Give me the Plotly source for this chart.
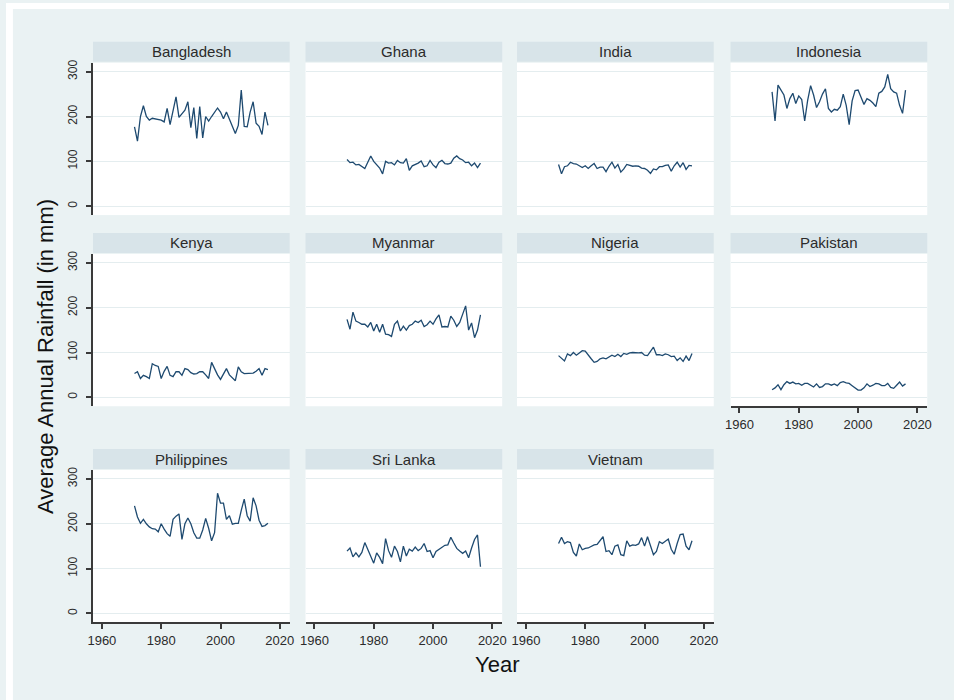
import plotly.graph_objects as go

# Annual rainfall series (mm), 1971-2016
years = list(range(1971, 2017))

countries = ["Bangladesh", "Ghana", "India", "Indonesia",
             "Kenya", "Myanmar", "Nigeria", "Pakistan",
             "Philippines", "Sri Lanka", "Vietnam"]

bangladesh = [177, 145, 200, 224, 200, 192, 196, 195, 193, 192, 188, 218, 182, 215, 244, 198,
              205, 214, 233, 175, 220, 151, 222, 152, 200, 190, 200, 210, 219, 210, 195, 210,
              195, 180, 162, 180, 259, 178, 177, 210, 233, 185, 178, 160, 210, 180]
ghana = [104, 97, 98, 92, 93, 88, 84, 98, 112, 100, 93, 85, 72, 100, 96, 97,
         92, 102, 97, 96, 106, 80, 90, 93, 96, 101, 88, 90, 102, 92, 86, 98,
         102, 95, 94, 96, 107, 112, 106, 103, 97, 98, 90, 96, 86, 96]
india = [93, 72, 88, 90, 98, 95, 94, 90, 86, 90, 84, 90, 95, 84, 87, 87,
         77, 89, 98, 85, 93, 76, 83, 93, 91, 89, 90, 89, 85, 84, 80, 73,
         83, 81, 88, 88, 91, 92, 78, 90, 98, 87, 97, 82, 91, 90]
indonesia = [255, 190, 270, 260, 248, 218, 240, 252, 229, 246, 238, 190, 236, 269, 248, 220,
             233, 250, 262, 218, 210, 216, 214, 222, 250, 225, 182, 235, 258, 259, 245, 227,
             240, 236, 230, 222, 252, 256, 266, 294, 262, 255, 252, 225, 207, 259]
kenya = [53, 57, 42, 49, 46, 42, 75, 71, 69, 42, 58, 69, 49, 46, 57, 57,
         49, 64, 62, 55, 52, 53, 57, 57, 50, 42, 78, 62, 50, 40, 52, 64,
         50, 44, 37, 68, 57, 53, 53, 53, 54, 58, 64, 49, 64, 62]
myanmar = [174, 152, 190, 170, 167, 163, 163, 157, 167, 148, 163, 145, 163, 141, 140, 136,
           163, 170, 148, 159, 150, 160, 163, 170, 167, 172, 158, 162, 170, 163, 175, 184,
           157, 158, 157, 181, 172, 158, 167, 185, 204, 150, 166, 133, 150, 184]
nigeria = [93, 88, 81, 97, 93, 100, 94, 99, 104, 103, 93, 86, 78, 80, 86, 88,
           86, 91, 94, 91, 96, 91, 98, 96, 99, 100, 99, 99, 100, 94, 93, 102,
           112, 95, 95, 93, 97, 95, 91, 92, 82, 88, 80, 92, 82, 98]
pakistan = [17, 21, 28, 17, 28, 35, 31, 34, 30, 31, 27, 31, 31, 27, 23, 30,
            22, 24, 30, 30, 27, 30, 26, 33, 35, 32, 31, 26, 22, 16, 16, 21,
            30, 24, 27, 31, 30, 26, 26, 31, 22, 20, 27, 34, 25, 30]
philippines = [240, 215, 201, 210, 200, 193, 189, 188, 182, 200, 188, 178, 172, 210, 217, 222,
               165, 200, 213, 200, 180, 168, 168, 186, 212, 190, 162, 180, 268, 246, 246, 210,
               218, 199, 201, 201, 230, 255, 218, 206, 258, 240, 208, 194, 196, 201]
sri_lanka = [139, 146, 126, 135, 126, 136, 158, 143, 131, 112, 135, 125, 111, 167, 140, 125,
             150, 138, 115, 150, 128, 143, 139, 148, 140, 145, 156, 138, 140, 124, 138, 143,
             146, 152, 153, 170, 157, 145, 139, 134, 139, 124, 146, 165, 175, 104]
vietnam = [156, 170, 156, 160, 158, 136, 128, 155, 142, 145, 146, 150, 153, 154, 163, 171,
           138, 140, 131, 150, 153, 131, 129, 162, 150, 153, 152, 155, 169, 150, 171, 150,
           131, 138, 160, 156, 162, 166, 143, 132, 156, 176, 177, 150, 142, 162]

series = [bangladesh, ghana, india, indonesia, kenya, myanmar, nigeria, pakistan,
          philippines, sri_lanka, vietnam]

x_ticks = [1960, 1980, 2000, 2020]
y_ticks = [0, 100, 200, 300]

W, H = 954, 700
BG = "#EAF2F3"
STRIP = "#D8E4E9"
GRID = "#E4EDEF"
NAVY = "#1E4A70"
AXIS = "#3a3a3a"
TEXT = "#2b2b2b"
FONT = "Arial, Liberation Sans, sans-serif"

col_left = [88, 303, 517, 733]
col_w = 199
row_top = [60, 252, 469]
row_h = 153
strip_h = 20

fig = go.Figure()
layout = {}
shapes = []
annotations = []

# thin white frame along the top and left edges of the page
shapes.append(dict(type="rect", xref="paper", yref="paper", x0=0, x1=1,
                   y0=1 - 6 / H, y1=1, fillcolor="white", line=dict(width=0),
                   layer="below"))
shapes.append(dict(type="rect", xref="paper", yref="paper", x0=0, x1=7 / W,
                   y0=0, y1=1, fillcolor="white", line=dict(width=0),
                   layer="below"))

for i, (name, vals) in enumerate(zip(countries, series)):
    r, c = divmod(i, 4)
    k = i + 1
    sx = "" if k == 1 else str(k)
    x0 = col_left[c]
    x1 = x0 + col_w
    y0 = row_top[r]
    y1 = y0 + row_h

    fig.add_trace(go.Scatter(
        x=years, y=vals, mode="lines",
        line=dict(color=NAVY, width=1.3),
        xaxis="x" + sx, yaxis="y" + sx,
        showlegend=False, hoverinfo="skip",
    ))

    show_x = (r == 2) or (r == 1 and c == 3)
    show_y = (c == 0)

    layout["xaxis" + sx] = dict(
        domain=[x0 / W, x1 / W], range=[1957, 2023.33], anchor="y" + sx,
        tickvals=x_ticks, showticklabels=show_x,
        ticks="outside" if show_x else "", ticklen=5, tickwidth=1.5, tickcolor=AXIS,
        showline=show_x, linecolor=AXIS, linewidth=1.5,
        showgrid=False, zeroline=False,
        tickfont=dict(family=FONT, size=13, color=TEXT),
    )
    layout["yaxis" + sx] = dict(
        domain=[1 - y1 / H, 1 - y0 / H], range=[-20, 320], anchor="x" + sx,
        tickvals=y_ticks, showticklabels=show_y, tickangle=-90,
        ticks="outside" if show_y else "", ticklen=5, tickwidth=1.5, tickcolor=AXIS,
        ticklabelstandoff=4,
        showline=show_y, linecolor=AXIS, linewidth=1.5,
        showgrid=True, gridcolor=GRID, gridwidth=1, zeroline=False,
        tickfont=dict(family=FONT, size=12, color=TEXT),
    )

    # panel header strip
    sy0 = y0 - 1 - strip_h
    shapes.append(dict(
        type="rect", xref="paper", yref="paper",
        x0=x0 / W, x1=x1 / W, y0=1 - (y0 - 1) / H, y1=1 - sy0 / H,
        fillcolor=STRIP, line=dict(width=0), layer="below",
    ))
    annotations.append(dict(
        text=name, xref="paper", yref="paper",
        x=(x0 + x1) / 2 / W, y=1 - (sy0 + strip_h / 2) / H,
        xanchor="center", yanchor="middle", showarrow=False,
        font=dict(family=FONT, size=15, color=TEXT),
    ))

annotations.append(dict(
    text="Average Annual Rainfall (in mm)", xref="paper", yref="paper",
    x=40 / W, y=1 - 355 / H, textangle=-90, showarrow=False,
    xanchor="center", yanchor="middle",
    font=dict(family=FONT, size=22, color="#111111"),
))
annotations.append(dict(
    text="Year", xref="paper", yref="paper",
    x=497 / W, y=1 - 664 / H, showarrow=False,
    xanchor="center", yanchor="middle",
    font=dict(family=FONT, size=22, color="#111111"),
))

fig.update_layout(
    width=W, height=H,
    margin=dict(l=0, r=0, t=0, b=0),
    paper_bgcolor=BG, plot_bgcolor="white",
    shapes=shapes, annotations=annotations,
    **layout,
)

fig.write_html("out.html")
